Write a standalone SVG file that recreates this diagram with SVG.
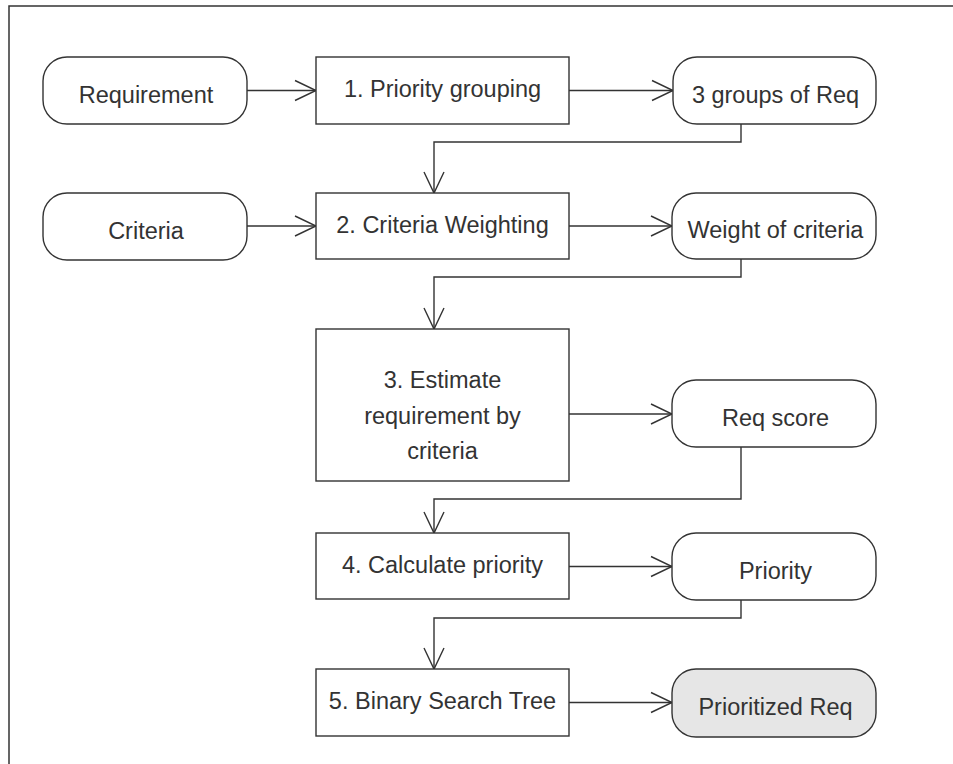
<svg xmlns="http://www.w3.org/2000/svg" width="953" height="764" viewBox="0 0 953 764">
<defs>
<style>
.n{fill:#fff;stroke:#333;stroke-width:1.4}
.f{fill:#e6e6e6;stroke:#333;stroke-width:1.4}
.t{font-family:"Liberation Sans",Arial,sans-serif;font-size:23.5px;fill:#333;text-anchor:middle}
.c{fill:none;stroke:#333;stroke-width:1.4;marker-end:url(#a)}
</style>
<marker id="a" viewBox="-23 -12 25 24" refX="0" refY="0" markerWidth="25" markerHeight="24" orient="auto" markerUnits="userSpaceOnUse">
<path d="M-21,-10 L0,0 L-21,10" fill="none" stroke="#333" stroke-width="1.4"/>
</marker>
</defs>
<rect width="953" height="764" fill="#fff"/>
<path d="M9,764 V6 H953" fill="none" stroke="#333" stroke-width="1.5"/>

<g id="connectors">
<path class="c" d="M247,90.5 H316"/>
<path class="c" d="M569,90.5 H673"/>
<path class="c" d="M741,124 V142 H434 V193"/>
<path class="c" d="M247,226 H316"/>
<path class="c" d="M569,226 H672"/>
<path class="c" d="M741,259 V277 H434 V329"/>
<path class="c" d="M569,414 H672"/>
<path class="c" d="M741,447 V499 H434 V533"/>
<path class="c" d="M569,566.5 H672"/>
<path class="c" d="M741,600 V618 H434 V669"/>
<path class="c" d="M569,702.5 H672"/>
</g>

<g id="requirement">
<rect class="n" x="43" y="57" width="204" height="67" rx="24"/>
<text class="t" x="146" y="103">Requirement</text>
</g>
<g id="priority-grouping">
<rect class="n" x="316" y="57" width="253" height="67"/>
<text class="t" x="442.5" y="97">1. Priority grouping</text>
</g>
<g id="groups-of-req">
<rect class="n" x="673" y="57" width="203" height="67" rx="24"/>
<text class="t" x="775.5" y="103">3 groups of Req</text>
</g>

<g id="criteria">
<rect class="n" x="43" y="193" width="204" height="67" rx="24"/>
<text class="t" x="146" y="239">Criteria</text>
</g>
<g id="criteria-weighting">
<rect class="n" x="316" y="193" width="253" height="66"/>
<text class="t" x="442.5" y="233">2. Criteria Weighting</text>
</g>
<g id="weight-of-criteria">
<rect class="n" x="672" y="193" width="204" height="66" rx="24"/>
<text class="t" x="775.5" y="238">Weight of criteria</text>
</g>

<g id="estimate">
<rect class="n" x="316" y="329" width="253" height="152"/>
<text class="t" x="442.5" y="388">3. Estimate</text>
<text class="t" x="442.5" y="423.5">requirement by</text>
<text class="t" x="442.5" y="459">criteria</text>
</g>
<g id="req-score">
<rect class="n" x="672" y="380" width="204" height="67" rx="24"/>
<text class="t" x="775.5" y="426">Req score</text>
</g>

<g id="calculate-priority">
<rect class="n" x="316" y="533" width="253" height="66"/>
<text class="t" x="442.5" y="573">4. Calculate priority</text>
</g>
<g id="priority">
<rect class="n" x="672" y="533" width="204" height="67" rx="24"/>
<text class="t" x="775.5" y="579">Priority</text>
</g>

<g id="binary-search-tree">
<rect class="n" x="316" y="669" width="253" height="67"/>
<text class="t" x="442.5" y="709">5. Binary Search Tree</text>
</g>
<g id="prioritized-req">
<rect class="f" x="672" y="669" width="204" height="68" rx="24"/>
<text class="t" x="775.5" y="715">Prioritized Req</text>
</g>
</svg>
